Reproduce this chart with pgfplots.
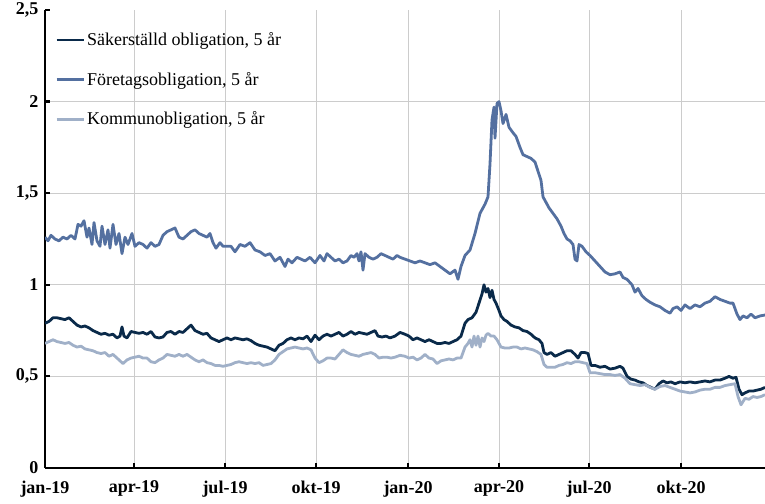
\documentclass[border=0pt]{standalone}
\usepackage{pgfplots}
\pgfplotsset{compat=1.18}
\usepackage{fontspec}
\setmainfont{Liberation Serif}
\definecolor{cSak}{RGB}{10,42,74}
\definecolor{cFor}{RGB}{84,112,160}
\definecolor{cKom}{RGB}{160,176,200}
\begin{document}
\begin{tikzpicture}
\begin{axis}[
 name=ax,
 scale only axis, width=720pt, height=458pt,
 xmin=0, xmax=720, ymin=0, ymax=2.5,
 axis x line=bottom, axis y line=left,
 axis line style={-, line width=2.5pt, black},
 xtick={89,180,271,363,454,544,636},
 xticklabels={apr-19,jul-19,okt-19,jan-20,apr-20,jul-20,okt-20},
 extra x ticks={0}, extra x tick labels={jan-19},
 extra x tick style={grid=none},
 ytick={0.5,1,1.5,2},
 extra y ticks={0,2.5},
 extra y tick style={grid=none},
 /pgf/number format/.cd, use comma, assume math mode=true, 1000 sep={},
 /pgfplots/.cd,
 grid=major, major grid style={black!20, line width=0.9pt},
 tick align=inside, major tick length=5pt,
 tick style={black, line width=2.2pt},
 ticklabel style={font=\bfseries\fontsize{18}{20}\selectfont},
 xticklabel style={yshift=-9pt},
 yticklabel style={xshift=-3pt},
 legend style={at={(axis description cs:0.014,0.955)}, anchor=north west, draw=none, fill=none, inner sep=0pt,
   font=\fontsize{18}{20}\selectfont, row sep=21pt, legend cell align=left},
 legend image code/.code={\draw[#1] (0pt,0pt) -- (27pt,0pt);},
 every axis plot/.append style={line width=2.8pt, line join=round, no markers},
]
\addplot[cSak] coordinates {
(0,0.79)(4,0.80)(8,0.82)(12,0.82)(16,0.815)(20,0.81)(24,0.82)(28,0.80)(32,0.78)(36,0.77)(40,0.775)(44,0.765)(48,0.75)(52,0.74)(56,0.73)(60,0.735)(64,0.725)(68,0.73)(72,0.71)(75,0.72)(77,0.77)(79,0.72)(82,0.71)(86,0.745)(90,0.74)(94,0.735)(98,0.74)(102,0.73)(106,0.745)(110,0.715)(114,0.71)(118,0.715)(122,0.74)(126,0.745)(130,0.73)(134,0.745)(138,0.74)(142,0.76)(146,0.78)(150,0.75)(154,0.74)(158,0.73)(162,0.735)(166,0.71)(170,0.70)(174,0.69)(178,0.70)(182,0.71)(186,0.70)(190,0.71)(194,0.705)(198,0.70)(202,0.705)(206,0.695)(210,0.68)(214,0.67)(218,0.665)(222,0.66)(226,0.65)(230,0.64)(234,0.67)(238,0.68)(242,0.70)(246,0.71)(250,0.70)(254,0.71)(258,0.705)(262,0.72)(266,0.69)(270,0.725)(274,0.70)(278,0.72)(282,0.73)(286,0.72)(290,0.73)(294,0.74)(298,0.72)(302,0.73)(306,0.745)(310,0.73)(314,0.74)(318,0.735)(322,0.73)(326,0.74)(330,0.75)(333,0.72)(337,0.715)(341,0.72)(345,0.71)(350,0.72)(355,0.74)(360,0.73)(364,0.72)(368,0.70)(372,0.71)(376,0.70)(380,0.69)(384,0.70)(388,0.69)(392,0.68)(396,0.68)(400,0.685)(404,0.68)(408,0.69)(412,0.70)(416,0.72)(420,0.79)(423,0.81)(427,0.82)(431,0.85)(434,0.90)(437,0.95)(439,1.00)(441,0.96)(443,0.98)(445,0.93)(447,0.97)(449,0.92)(451,0.90)(454,0.86)(456,0.83)(459,0.81)(462,0.80)(466,0.78)(470,0.77)(474,0.765)(478,0.75)(482,0.745)(486,0.73)(490,0.71)(494,0.70)(497,0.68)(499,0.63)(502,0.62)(506,0.63)(510,0.61)(514,0.62)(518,0.63)(522,0.64)(526,0.64)(530,0.62)(533,0.60)(536,0.63)(540,0.63)(543,0.625)(546,0.56)(550,0.56)(555,0.55)(560,0.555)(565,0.54)(570,0.545)(575,0.555)(578,0.545)(582,0.50)(586,0.485)(590,0.48)(594,0.47)(598,0.465)(602,0.45)(606,0.44)(610,0.43)(614,0.46)(618,0.475)(622,0.465)(626,0.47)(630,0.46)(635,0.47)(640,0.465)(645,0.47)(650,0.465)(655,0.47)(660,0.475)(665,0.47)(670,0.48)(675,0.48)(680,0.49)(684,0.50)(688,0.49)(691,0.495)(694,0.43)(697,0.40)(700,0.41)(704,0.42)(708,0.42)(712,0.425)(716,0.43)(720,0.44)
};
\addlegendentry{Säkerställd obligation, 5 år}
\addplot[cFor] coordinates {
(0,1.26)(3,1.24)(6,1.27)(10,1.25)(14,1.24)(18,1.26)(22,1.25)(26,1.27)(30,1.25)(33,1.33)(36,1.32)(39,1.35)(42,1.26)(44,1.31)(47,1.22)(49,1.34)(52,1.24)(55,1.21)(57,1.32)(60,1.22)(63,1.30)(65,1.20)(68,1.33)(71,1.22)(74,1.28)(77,1.17)(80,1.26)(83,1.22)(87,1.28)(90,1.21)(94,1.23)(98,1.22)(102,1.20)(106,1.23)(110,1.21)(114,1.22)(118,1.27)(122,1.29)(126,1.30)(130,1.31)(134,1.26)(138,1.25)(142,1.27)(146,1.29)(150,1.30)(154,1.28)(158,1.27)(162,1.26)(165,1.28)(168,1.23)(171,1.20)(175,1.23)(178,1.21)(182,1.21)(186,1.21)(190,1.18)(195,1.22)(200,1.21)(205,1.23)(210,1.19)(215,1.18)(220,1.16)(225,1.17)(230,1.13)(235,1.15)(240,1.10)(243,1.14)(247,1.12)(252,1.15)(256,1.14)(260,1.13)(265,1.15)(270,1.12)(275,1.16)(279,1.13)(282,1.17)(286,1.15)(290,1.13)(294,1.14)(298,1.12)(302,1.13)(306,1.16)(309,1.15)(312,1.17)(314,1.13)(316,1.18)(318,1.08)(320,1.17)(324,1.15)(328,1.14)(332,1.15)(336,1.17)(340,1.16)(344,1.15)(348,1.14)(352,1.16)(355,1.15)(360,1.14)(365,1.13)(370,1.12)(375,1.13)(380,1.12)(385,1.11)(390,1.12)(395,1.10)(400,1.08)(405,1.06)(410,1.08)(413,1.03)(416,1.10)(420,1.16)(425,1.19)(430,1.28)(435,1.39)(440,1.44)(443,1.48)(445,1.66)(447,1.90)(449,1.97)(450,1.80)(452,1.99)(454,2.00)(456,1.95)(458,1.88)(461,1.93)(464,1.86)(468,1.83)(471,1.81)(475,1.75)(478,1.71)(482,1.70)(486,1.69)(490,1.67)(493,1.62)(496,1.57)(498,1.48)(500,1.46)(504,1.42)(508,1.39)(512,1.36)(516,1.32)(519,1.28)(522,1.25)(525,1.24)(528,1.22)(530,1.14)(532,1.13)(534,1.22)(537,1.21)(541,1.18)(545,1.16)(550,1.13)(555,1.10)(560,1.07)(565,1.055)(570,1.06)(575,1.07)(578,1.04)(582,1.03)(587,1.00)(590,0.96)(593,0.98)(597,0.94)(601,0.92)(605,0.905)(610,0.89)(615,0.88)(620,0.86)(625,0.845)(628,0.87)(632,0.88)(636,0.86)(640,0.89)(645,0.87)(650,0.89)(655,0.88)(660,0.90)(665,0.91)(670,0.935)(675,0.92)(680,0.91)(685,0.90)(688,0.90)(692,0.84)(695,0.81)(698,0.83)(702,0.82)(706,0.84)(710,0.82)(715,0.83)(720,0.835)
};
\addlegendentry{Företagsobligation, 5 år}
\addplot[cKom] coordinates {
(0,0.68)(4,0.69)(8,0.70)(12,0.69)(16,0.685)(20,0.68)(24,0.685)(28,0.67)(32,0.66)(36,0.665)(40,0.65)(44,0.645)(48,0.64)(52,0.63)(56,0.625)(60,0.63)(64,0.61)(68,0.62)(72,0.60)(75,0.585)(78,0.57)(82,0.59)(86,0.60)(90,0.605)(94,0.61)(98,0.60)(102,0.60)(106,0.58)(110,0.575)(114,0.59)(118,0.60)(122,0.62)(126,0.615)(130,0.61)(134,0.62)(138,0.61)(142,0.62)(146,0.605)(150,0.59)(154,0.58)(158,0.59)(162,0.575)(166,0.57)(170,0.56)(174,0.56)(178,0.555)(182,0.56)(186,0.565)(190,0.575)(194,0.58)(198,0.575)(202,0.57)(206,0.575)(210,0.57)(214,0.575)(218,0.56)(222,0.565)(226,0.57)(230,0.59)(234,0.62)(238,0.635)(242,0.65)(246,0.655)(250,0.66)(254,0.655)(258,0.65)(262,0.655)(266,0.645)(270,0.60)(274,0.575)(278,0.585)(282,0.60)(286,0.60)(290,0.595)(294,0.62)(298,0.645)(302,0.63)(306,0.62)(310,0.615)(314,0.61)(318,0.62)(322,0.625)(326,0.63)(330,0.62)(334,0.60)(338,0.605)(342,0.605)(346,0.60)(350,0.605)(355,0.615)(360,0.61)(364,0.60)(368,0.605)(372,0.59)(376,0.60)(380,0.62)(384,0.60)(388,0.595)(392,0.57)(396,0.585)(400,0.59)(404,0.595)(408,0.59)(412,0.60)(416,0.60)(420,0.66)(423,0.68)(425,0.70)(427,0.66)(429,0.72)(431,0.67)(433,0.72)(435,0.66)(437,0.71)(439,0.69)(441,0.725)(443,0.735)(446,0.72)(449,0.72)(452,0.70)(456,0.66)(460,0.655)(464,0.655)(468,0.66)(472,0.66)(476,0.65)(480,0.655)(484,0.65)(488,0.645)(492,0.635)(496,0.62)(499,0.565)(502,0.55)(506,0.55)(510,0.55)(514,0.56)(518,0.565)(522,0.575)(526,0.57)(530,0.58)(534,0.58)(538,0.575)(542,0.57)(545,0.52)(550,0.52)(555,0.515)(560,0.51)(565,0.51)(570,0.505)(575,0.51)(580,0.49)(585,0.46)(590,0.455)(595,0.45)(600,0.455)(605,0.44)(610,0.43)(615,0.445)(620,0.45)(625,0.44)(630,0.43)(635,0.42)(640,0.415)(645,0.41)(650,0.415)(655,0.425)(660,0.43)(665,0.43)(670,0.44)(675,0.44)(680,0.45)(685,0.455)(690,0.46)(693,0.39)(696,0.345)(700,0.38)(704,0.375)(708,0.39)(712,0.385)(716,0.39)(720,0.40)
};
\addlegendentry{Kommunobligation, 5 år}
\end{axis}
\pgfresetboundingbox
\path ([shift={(-45pt,-36pt)}]ax.south west) rectangle ([shift={(0pt,10pt)}]ax.north east);
\end{tikzpicture}
\end{document}
